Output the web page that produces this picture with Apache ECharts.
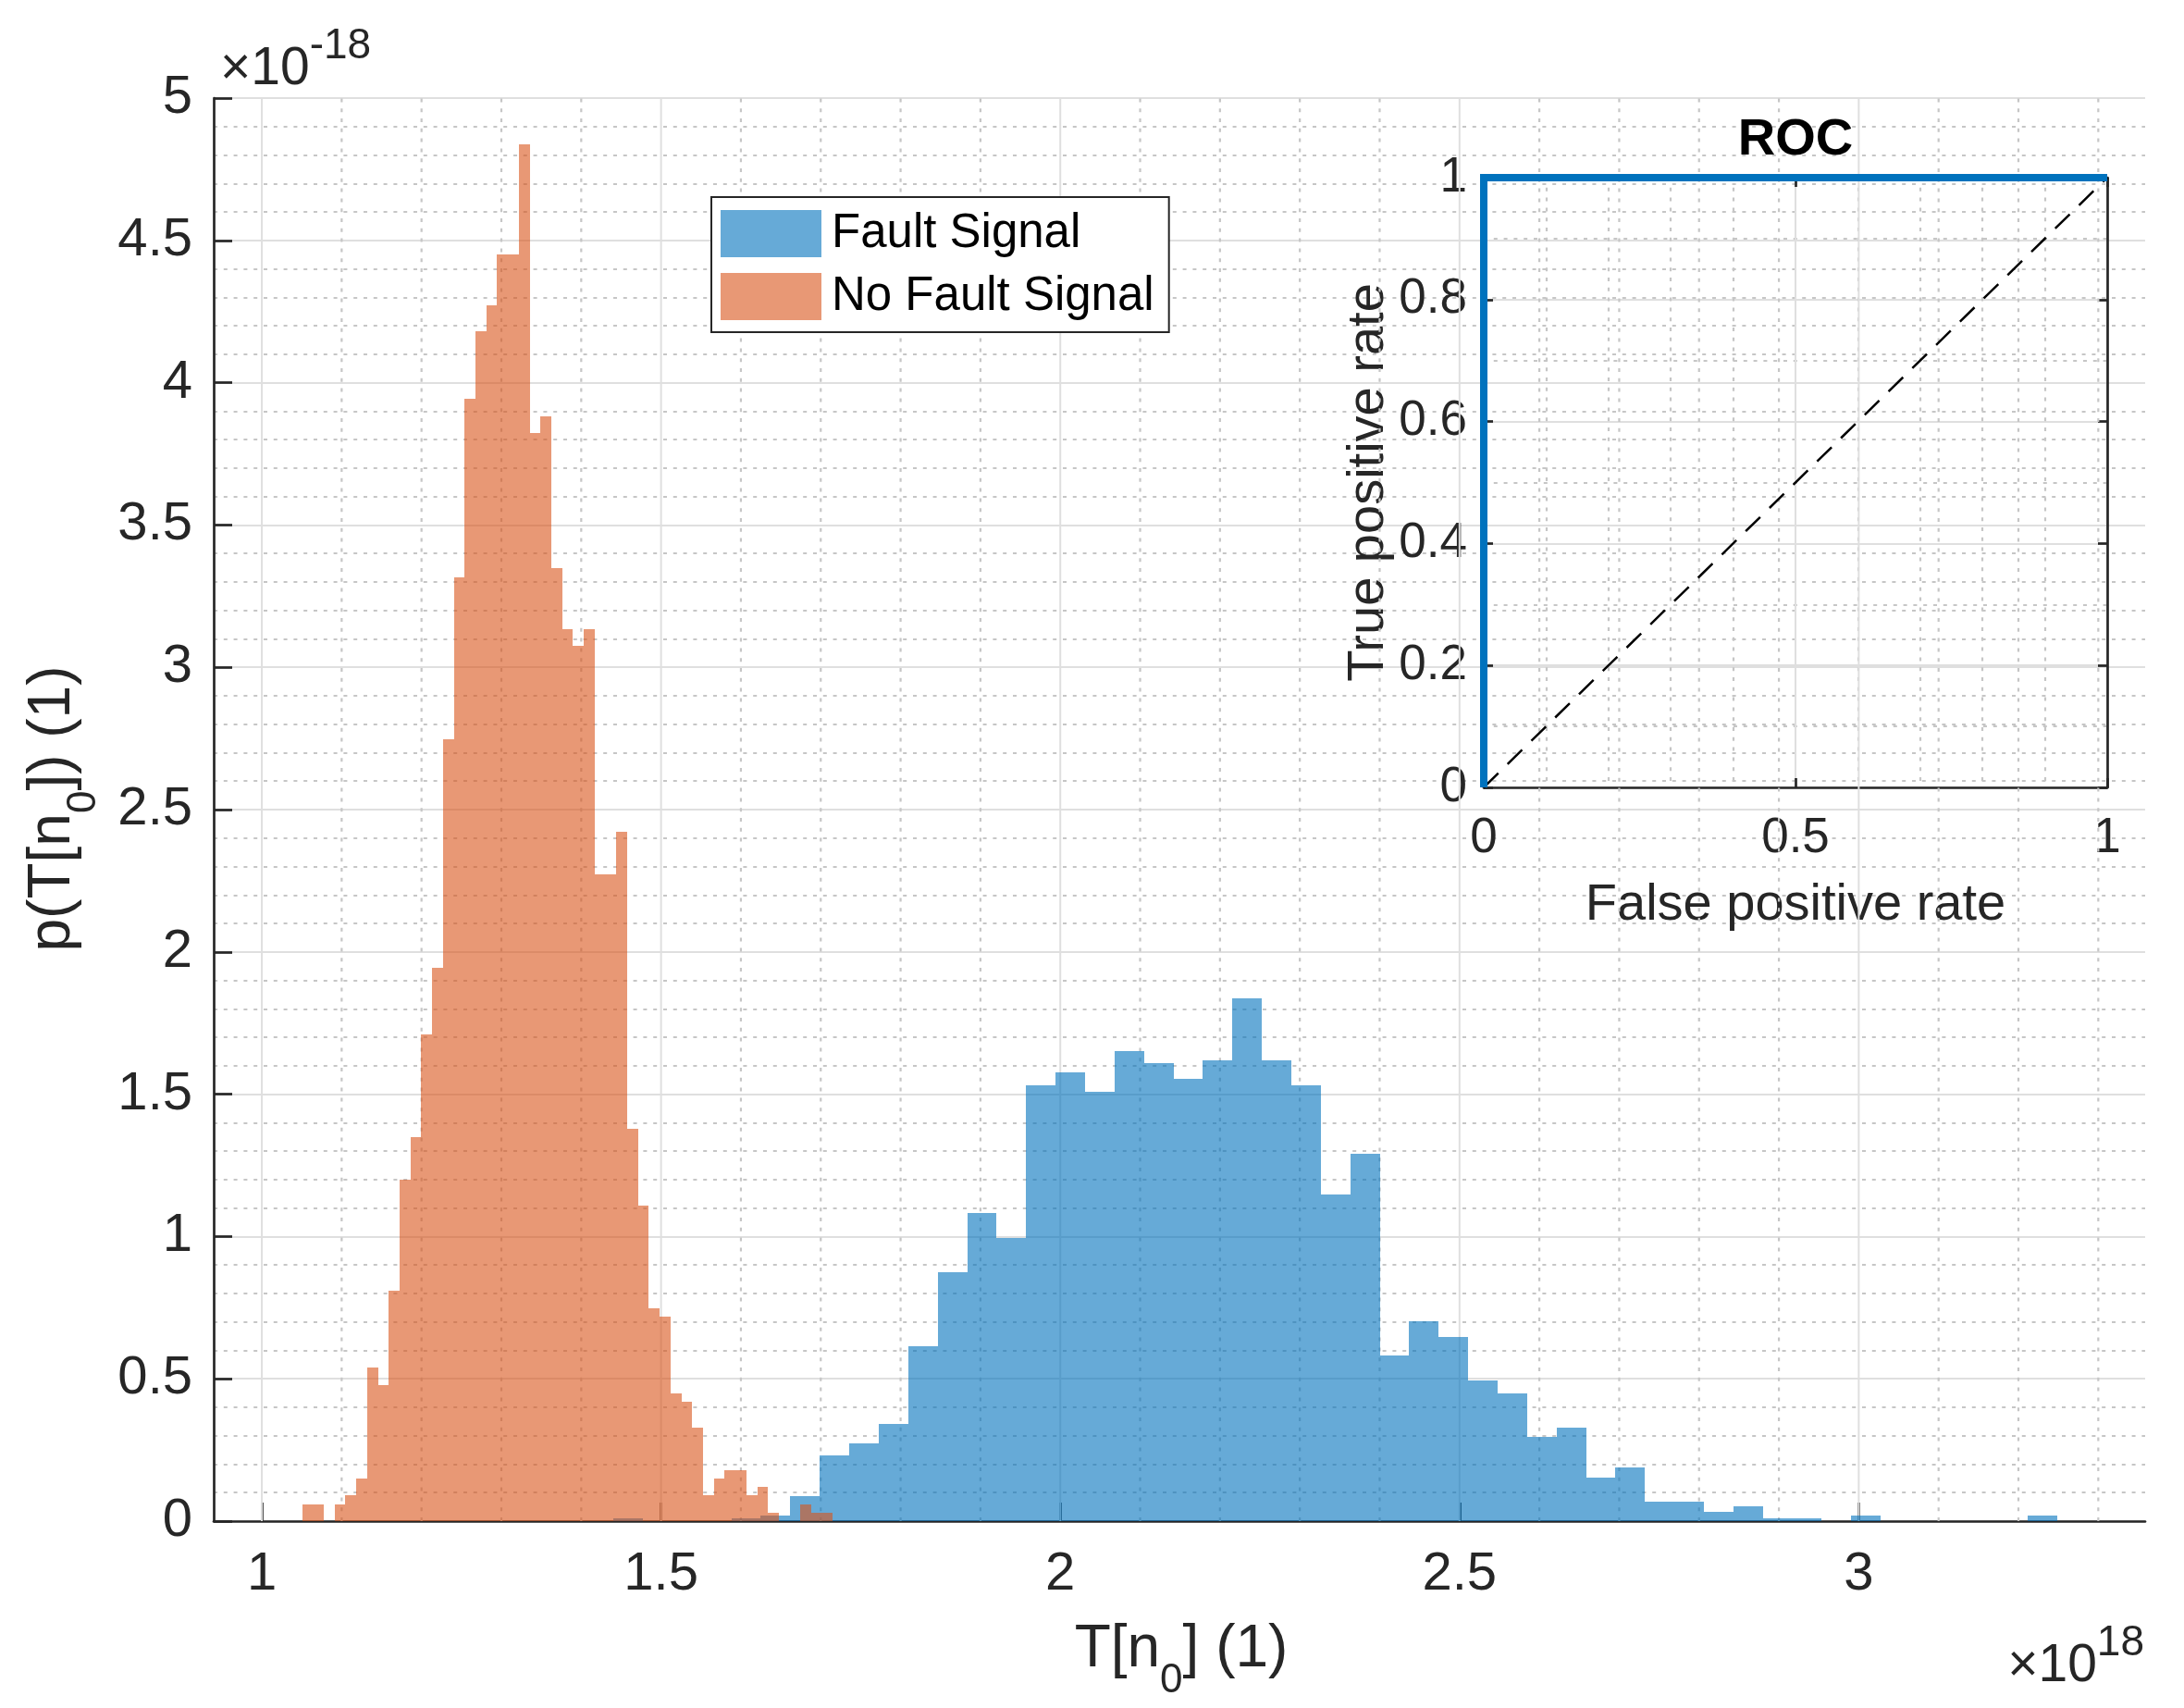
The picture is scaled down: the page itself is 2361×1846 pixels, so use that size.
<!DOCTYPE html>
<html>
<head>
<meta charset="utf-8">
<title>Test statistic histograms and ROC</title>
<script src="https://cdn.jsdelivr.net/npm/echarts@6.0.0/dist/echarts.min.js"></script>
<style>
  html, body { margin: 0; padding: 0; background: #fff; }
  #chart { width: 2361px; height: 1846px; }
</style>
</head>
<body>
<div id="chart"></div>
<script>
// histogram bins, x in units of 1e18, density in units of 1e-18
const faultBinStart = 1.4404;
const faultBinWidth = 0.03691;
const faultDensity = [
  0.011, 0, 0, 0, 0.011, 0.021, 0.087, 0.230, 0.272, 0.341,
  0.614, 0.875, 1.082, 0.996, 1.532, 1.577, 1.509, 1.652, 1.609, 1.554,
  1.619, 1.837, 1.619, 1.532, 1.148, 1.291, 0.581, 0.703, 0.647, 0.494,
  0.448, 0.295, 0.328, 0.152, 0.187, 0.067, 0.067, 0.032, 0.053, 0.011,
  0.011, 0, 0.021, 0, 0, 0, 0, 0, 0.021
];

const noFaultBinStart = 1.0504;
const noFaultBinWidth = 0.01357;
const noFaultDensity = [
  0.06, 0.06, 0, 0.06, 0.09, 0.149, 0.54, 0.479, 0.811, 1.201,
  1.35, 1.71, 1.944, 2.748, 3.317, 3.944, 4.181, 4.272, 4.451, 4.451,
  4.837, 3.824, 3.882, 3.347, 3.134, 3.076, 3.134, 2.272, 2.272, 2.421,
  1.38, 1.109, 0.749, 0.72, 0.449, 0.419, 0.328, 0.09, 0.149, 0.18,
  0.18, 0.09, 0.119, 0.03, 0, 0, 0.06, 0.03, 0.03
];

// axis ticks of the main plot
const xMin = 0.9397, xMax = 3.3587;
const yMin = 0, yMax = 5;
const xTickValues = [1, 1.5, 2, 2.5, 3];
const xMinorGridValues = [1.1, 1.2, 1.3, 1.4, 1.6, 1.7, 1.8, 1.9, 2.1, 2.2, 2.3, 2.4,
  2.6, 2.7, 2.8, 2.9, 3.1, 3.2, 3.3];

// ROC inset
const rocFpr = [0, 0, 1];
const rocTpr = [0, 1, 1];
const chanceFpr = [0, 1];
const chanceTpr = [0, 1];

const font = '"Liberation Sans", Arial, Helvetica, sans-serif';
const axisColor = '#262626';
const gridColor = '#dfdfdf';
const minorColor = '#c6c6c6';
const dots = [4, 6.8];

function toBins(start, width, dens) {
  return dens.map((h, i) => [start + i * width, start + (i + 1) * width, h]);
}

function renderBin(params, api) {
  const h = api.value(2);
  if (!h) return;
  const tl = api.coord([api.value(0), h]);
  const br = api.coord([api.value(1), 0]);
  const x0 = Math.round(tl[0]), x1 = Math.round(br[0]);
  const y0 = Math.round(tl[1]), y1 = Math.round(br[1]);
  return {
    type: 'rect',
    shape: { x: x0, y: y0, width: x1 - x0, height: y1 - y0 },
    style: { fill: api.visual('color') }
  };
}

function gridRenderer(stroke, width, dash) {
  return function (params, api) {
    const v = api.value(0);
    const a = api.coord([v, yMin]);
    const b = api.coord([v, yMax]);
    return {
      type: 'line',
      shape: { x1: a[0], y1: a[1], x2: b[0], y2: b[1] },
      style: { stroke: stroke, lineWidth: width, lineDash: dash }
    };
  };
}

// rich styles for the sub/superscripted labels
const labelRich = {
  a: { fontSize: 64, lineHeight: 64, fontFamily: font, fill: axisColor, color: axisColor, verticalAlign: 'top' },
  s: { fontSize: 44, lineHeight: 88, fontFamily: font, fill: axisColor, color: axisColor, verticalAlign: 'bottom' }
};
const expRich = {
  m: { fontSize: 57, lineHeight: 77, fontFamily: font, fill: axisColor, color: axisColor, verticalAlign: 'bottom' },
  p: { fontSize: 46, lineHeight: 46, fontFamily: font, fill: axisColor, color: axisColor, verticalAlign: 'top' }
};

const chart = echarts.init(document.getElementById('chart'));

const axisLine = { show: true, onZero: false, lineStyle: { color: axisColor, width: 2.7 } };
const tickStyle = { color: axisColor, width: 2.7 };

const option = {
  animation: false,
  backgroundColor: '#fff',
  textStyle: { fontFamily: font },
  title: {
    text: 'ROC', left: 1941, top: 124, textAlign: 'center', padding: 0,
    textStyle: { fontSize: 56, fontWeight: 'bold', color: '#000', fontFamily: font }
  },
  legend: {
    data: ['Fault Signal', 'No Fault Signal'],
    orient: 'vertical', left: 769, top: 213,
    padding: [14, 16, 13, 10],
    itemWidth: 109, itemHeight: 51, itemGap: 17,
    icon: 'rect',
    borderColor: axisColor, borderWidth: 2, backgroundColor: '#fff',
    textStyle: { fontSize: 51, color: '#000', fontFamily: font, padding: [10, 0, 0, 6] }
  },
  grid: [
    { left: 231, top: 106, width: 2088, height: 1538 },
    { left: 1604, top: 192, width: 674, height: 659 }
  ],
  xAxis: [
    {
      gridIndex: 0, type: 'value', min: xMin, max: xMax,
      axisLine: axisLine,
      axisTick: { show: true, inside: true, length: 20, customValues: xTickValues, lineStyle: tickStyle },
      axisLabel: { customValues: xTickValues, fontSize: 58, margin: 29, color: axisColor, fontFamily: font },
      splitLine: { show: false }
    },
    {
      gridIndex: 1, type: 'value', min: 0, max: 1, interval: 0.5, position: 'bottom',
      axisLine: axisLine,
      axisTick: { show: true, inside: true, length: 10, lineStyle: tickStyle },
      axisLabel: { fontSize: 53, margin: 29, color: axisColor, fontFamily: font },
      splitLine: { show: true, lineStyle: { color: gridColor, width: 2 } },
      minorTick: { show: false, splitNumber: 5 },
      minorSplitLine: { show: true, lineStyle: { color: minorColor, width: 2.2, type: dots } },
      name: 'False positive rate', nameLocation: 'middle', nameGap: 100,
      nameTextStyle: { fontSize: 56, color: axisColor, fontFamily: font }
    },
    {
      gridIndex: 1, type: 'value', min: 0, max: 1, interval: 0.5, position: 'top',
      axisLine: axisLine,
      axisTick: { show: true, inside: true, length: 10, lineStyle: tickStyle },
      axisLabel: { show: false },
      splitLine: { show: false }
    }
  ],
  yAxis: [
    {
      gridIndex: 0, type: 'value', min: yMin, max: yMax, interval: 0.5,
      axisLine: axisLine,
      axisTick: { show: true, inside: true, length: 20, lineStyle: tickStyle },
      axisLabel: { fontSize: 58, margin: 23, color: axisColor, fontFamily: font },
      splitLine: { show: true, lineStyle: { color: gridColor, width: 2 } },
      minorTick: { show: false, splitNumber: 5 },
      minorSplitLine: { show: true, lineStyle: { color: minorColor, width: 2.2, type: dots } }
    },
    {
      gridIndex: 1, type: 'value', min: 0, max: 1, interval: 0.2,
      axisLine: axisLine,
      axisTick: { show: true, inside: true, length: 10, lineStyle: tickStyle },
      axisLabel: { fontSize: 53, margin: 18, color: axisColor, fontFamily: font },
      splitLine: { show: true, lineStyle: { color: gridColor, width: 2 } },
      minorTick: { show: false, splitNumber: 2 },
      minorSplitLine: { show: true, lineStyle: { color: minorColor, width: 2.2, type: dots } },
      name: 'True positive rate', nameLocation: 'middle', nameGap: 96,
      nameTextStyle: { fontSize: 56, color: axisColor, fontFamily: font }
    },
    {
      gridIndex: 1, type: 'value', min: 0, max: 1, interval: 0.2, position: 'right',
      axisLine: axisLine,
      axisTick: { show: true, inside: true, length: 10, lineStyle: tickStyle },
      axisLabel: { show: false },
      splitLine: { show: false }
    }
  ],
  series: [
    {
      name: 'xMajorGrid', type: 'custom', xAxisIndex: 0, yAxisIndex: 0, silent: true, z: 1,
      renderItem: gridRenderer(gridColor, 2, null),
      encode: { x: 0, y: 1 },
      data: xTickValues.map(v => [v, 0])
    },
    {
      name: 'xMinorGrid', type: 'custom', xAxisIndex: 0, yAxisIndex: 0, silent: true, z: 1,
      renderItem: gridRenderer(minorColor, 2.2, dots),
      encode: { x: 0, y: 1 },
      data: xMinorGridValues.map(v => [v, 0])
    },
    {
      name: 'Fault Signal', type: 'custom', xAxisIndex: 0, yAxisIndex: 0, z: 2,
      itemStyle: { color: 'rgba(0,114,189,0.6)' },
      renderItem: renderBin,
      encode: { x: [0, 1], y: 2 },
      data: toBins(faultBinStart, faultBinWidth, faultDensity)
    },
    {
      name: 'No Fault Signal', type: 'custom', xAxisIndex: 0, yAxisIndex: 0, z: 3,
      itemStyle: { color: 'rgba(217,83,25,0.6)' },
      renderItem: renderBin,
      encode: { x: [0, 1], y: 2 },
      data: toBins(noFaultBinStart, noFaultBinWidth, noFaultDensity)
    },
    {
      name: 'chance', type: 'line', xAxisIndex: 1, yAxisIndex: 1, z: 4,
      symbol: 'none', silent: true, clip: false,
      lineStyle: { color: '#000', width: 2.5, type: [22, 14] },
      data: chanceFpr.map((v, i) => [v, chanceTpr[i]])
    },
    {
      name: 'ROC', type: 'line', xAxisIndex: 1, yAxisIndex: 1, z: 5,
      symbol: 'none', silent: true, clip: false,
      lineStyle: { color: '#0072BD', width: 8, join: 'miter' },
      data: rocFpr.map((v, i) => [v, rocTpr[i]])
    }
  ],
  graphic: [
    {
      type: 'text', x: 238, y: 27, silent: true,
      style: {
        text: '{m|×10}{p|-18}', align: 'left', verticalAlign: 'top',
        textAlign: 'left', textVerticalAlign: 'top', rich: expRich
      }
    },
    {
      type: 'text', x: 2318, y: 1753, silent: true,
      style: {
        text: '{m|×10}{p|18}', align: 'right', verticalAlign: 'top',
        textAlign: 'right', textVerticalAlign: 'top', rich: expRich
      }
    },
    {
      type: 'text', x: 1277, y: 1751, silent: true,
      style: {
        text: '{a|T[n}{s|0}{a|] (1)}', align: 'center', verticalAlign: 'top',
        textAlign: 'center', textVerticalAlign: 'top', rich: labelRich
      }
    },
    {
      type: 'text', x: 25, y: 874, rotation: Math.PI / 2, silent: true,
      style: {
        text: '{a|p(T[n}{s|0}{a|]) (1)}', align: 'center', verticalAlign: 'top',
        textAlign: 'center', textVerticalAlign: 'top', rich: labelRich
      }
    }
  ]
};

chart.setOption(option);
</script>
</body>
</html>
